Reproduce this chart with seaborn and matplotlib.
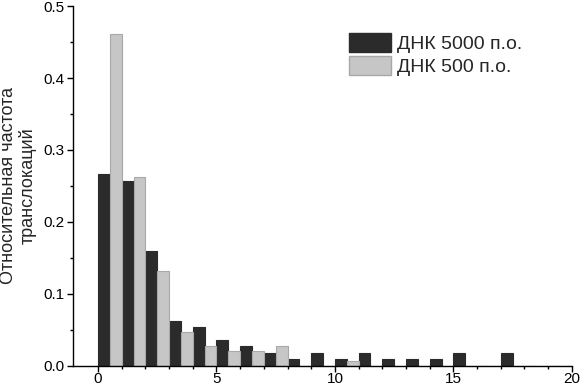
import numpy as np
import pandas as pd
import matplotlib
matplotlib.use("Agg")
import matplotlib.pyplot as plt
import seaborn as sns
from matplotlib.patches import Patch

bins = list(range(20))
dna5000 = [0.266, 0.257, 0.160, 0.062, 0.054, 0.036, 0.027, 0.018, 0.009, 0.018,
           0.009, 0.018, 0.009, 0.009, 0.009, 0.018, 0.0, 0.018, 0.0, 0.0]
dna500 = [0.461, 0.263, 0.132, 0.047, 0.027, 0.020, 0.020, 0.027, 0.0, 0.0,
          0.007, 0.0, 0.0, 0.0, 0.0, 0.0, 0.0, 0.0, 0.0, 0.0]
labels = ["ДНК 5000 п.о.", "ДНК 500 п.о."]

df = pd.DataFrame({
    "x": [b + 0.5 for b in bins] * 2,
    "y": dna5000 + dna500,
    "s": [labels[0]] * len(bins) + [labels[1]] * len(bins),
})

sns.set_style("ticks")
plt.rcParams['font.family'] = ['Liberation Sans', 'DejaVu Sans']

fig = plt.figure(figsize=(5.8, 3.86), dpi=100)
ax = fig.add_axes([0.126, 0.053, 0.86, 0.931])

colors = {labels[0]: "#2b2b2b", labels[1]: "#c6c6c6"}
sns.barplot(data=df, x="x", y="y", hue="s", native_scale=True, width=1.0,
            palette=colors, saturation=1, ax=ax, dodge=True, legend=False,
            linewidth=0.8)
for p in ax.patches:
    fc = p.get_facecolor()
    if fc[0] > 0.5:
        p.set_edgecolor("#a8a8a8")
    else:
        p.set_edgecolor("#2b2b2b")

ax.set_xlim(-1.05, 20)
ax.set_ylim(0, 0.5)
ax.set_xticks([0, 5, 10, 15, 20])
ax.set_xticks(np.arange(0, 21, 1), minor=True)
ax.set_yticks([0.0, 0.1, 0.2, 0.3, 0.4, 0.5])
ax.set_yticks(np.arange(0.05, 0.5, 0.1), minor=True)
ax.set_yticklabels(["0.0", "0.1", "0.2", "0.3", "0.4", "0.5"])
ax.tick_params(axis="both", which="major", direction="out", length=4, width=1,
               labelsize=11, colors="black", pad=2)
ax.tick_params(axis="x", which="major", pad=1)
ax.tick_params(axis="both", which="minor", direction="out", length=2.5, width=1,
               colors="black")
ax.set_xlabel("")
ax.set_ylabel("Относительная частота\nтранслокаций", fontsize=13, labelpad=5,
              linespacing=1.1)
sns.despine(ax=ax)
for s in ["left", "bottom"]:
    ax.spines[s].set_linewidth(1)
    ax.spines[s].set_color("black")

handles = [Patch(facecolor=colors[labels[0]], edgecolor="#2b2b2b"),
           Patch(facecolor=colors[labels[1]], edgecolor="#a8a8a8")]
ax.legend(handles, labels, loc="upper left", bbox_to_anchor=(0.553, 0.925),
          frameon=False, fontsize=14, handlelength=2.16, handleheight=1.15,
          labelspacing=0.12, handletextpad=0.3, borderaxespad=0, borderpad=0)

fig.savefig("out.png", dpi=100)
